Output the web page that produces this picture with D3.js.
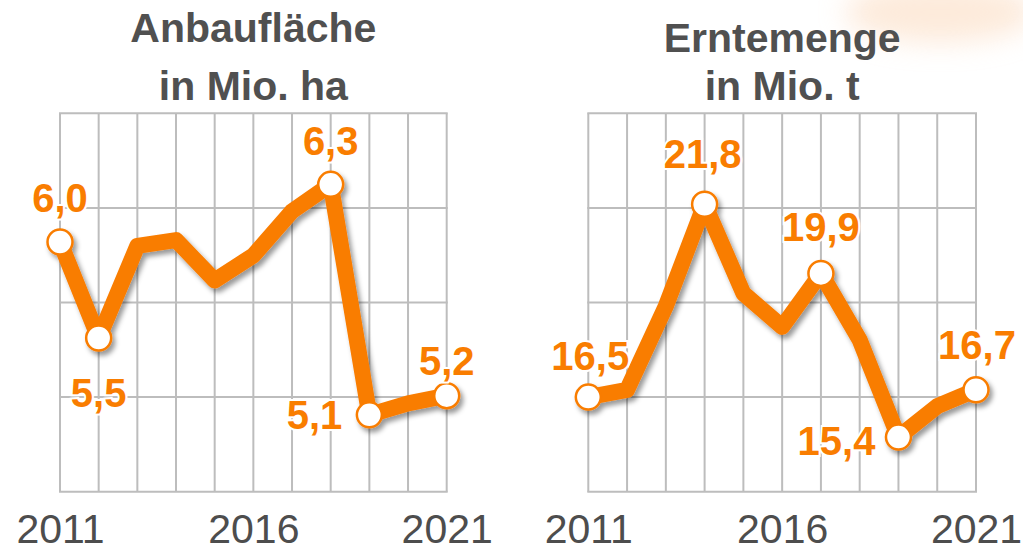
<!DOCTYPE html>
<html>
<head>
<meta charset="utf-8">
<script src="https://cdn.jsdelivr.net/npm/d3@7"></script>
<style>
  body { margin: 0; background: #fff; }
  svg { display: block; font-family: "Liberation Sans", Arial, sans-serif; }
</style>
</head>
<body>
<div id="chart"></div>
<script>
//data
var years = [2011, 2012, 2013, 2014, 2015, 2016, 2017, 2018, 2019, 2020, 2021];
var flaeche = [6.0, 5.5, 5.98, 6.01, 5.80, 5.93, 6.16, 6.3, 5.1, 5.16, 5.2]; //Anbauflaeche Mio. ha
var ernte = [16.5, 16.7, 19.0, 21.8, 19.35, 18.43, 19.9, 18.07, 15.4, 16.25, 16.7]; //Erntemenge Mio. t
var yearTicks = [2011, 2016, 2021];
var titleFlaeche = ["Anbaufläche", "in Mio. ha"];
var titleErnte = ["Erntemenge", "in Mio. t"];
var labeledFlaeche = [0, 1, 7, 8, 10]; //which points get a value label
var labeledErnte = [0, 3, 6, 8, 10];

var width = 1023, height = 547,
    gridTop = 113.3, gridBottom = 491.7,
    orange = "#f97d00";

var fmt = d3.format(".1f");
function comma(v) { return fmt(v).replace(".", ","); }

var svg = d3.select("#chart").append("svg")
    .attr("width", width)
    .attr("height", height);

var defs = svg.append("defs");

//drop shadow for the line + markers
var shadow = defs.append("filter")
    .attr("id", "shadow")
    .attr("x", "-10%").attr("y", "-10%")
    .attr("width", "130%").attr("height", "130%");
shadow.append("feDropShadow")
    .attr("dx", 3).attr("dy", 4)
    .attr("stdDeviation", 2.5)
    .attr("flood-color", "#000")
    .attr("flood-opacity", 0.4);

//soft decoration in the upper right corner
var blur = defs.append("filter").attr("id", "blur")
    .attr("x", "-50%").attr("y", "-50%").attr("width", "200%").attr("height", "200%");
blur.append("feGaussianBlur").attr("stdDeviation", 14);
svg.append("ellipse")
    .attr("cx", 940).attr("cy", 12)
    .attr("rx", 95).attr("ry", 30)
    .attr("fill", "#fbd6b6")
    .attr("opacity", 0.5)
    .attr("filter", "url(#blur)");

//panel settings (layout only)
var panels = [
    { values: flaeche, title: titleFlaeche, left: 60, right: 446.7, domain: [4.7, 6.67], titleY: [42, 100],
      labeled: labeledFlaeche,
      place: [[0, -30, "middle"], [0, 69, "middle"], [0, -29, "middle"], [-27, 14, "end"], [0, -21, "middle"]] },
    { values: ernte, title: titleErnte, left: 588.3, right: 976, domain: [13.9, 24.3], titleY: [52, 100],
      labeled: labeledErnte,
      place: [[2, -27, "middle"], [-2, -36, "middle"], [0, -32, "middle"], [-23, 18, "end"], [1, -31, "middle"]] }
];

panels.forEach(function(p) {
    var x = d3.scaleLinear().domain([years[0], years[years.length - 1]]).range([p.left, p.right]);
    var y = d3.scaleLinear().domain(p.domain).range([gridBottom, gridTop]);
    var g = svg.append("g");

    //title
    g.append("text")
        .attr("text-anchor", "middle")
        .attr("font-size", 41)
        .attr("font-weight", "bold")
        .attr("fill", "#505050")
        .selectAll("tspan")
        .data(p.title)
        .enter().append("tspan")
            .attr("x", (p.left + p.right) / 2)
            .attr("y", (d, i) => p.titleY[i])
            .text(d => d);

    //grid: one column per year, four rows
    var rows = d3.range(5).map(i => p.domain[0] + i * (p.domain[1] - p.domain[0]) / 4);
    g.append("g").selectAll("line")
        .data(years)
        .enter().append("line")
            .attr("x1", d => x(d)).attr("x2", d => x(d))
            .attr("y1", gridTop).attr("y2", gridBottom)
            .attr("stroke", "#bdbdbd").attr("stroke-width", 2);
    g.append("g").selectAll("line")
        .data(rows)
        .enter().append("line")
            .attr("x1", p.left - 1).attr("x2", p.right + 1)
            .attr("y1", d => y(d)).attr("y2", d => y(d))
            .attr("stroke", "#bdbdbd").attr("stroke-width", 2);

    //year axis
    var axis = g.append("g")
        .attr("transform", "translate(0," + gridBottom + ")")
        .call(d3.axisBottom(x).tickValues(yearTicks).tickSize(0).tickFormat(d3.format("d")));
    axis.select(".domain").remove();
    axis.selectAll("text")
        .attr("dy", null)
        .attr("y", 51)
        .attr("font-size", 41)
        .attr("font-family", "Liberation Sans, Arial, sans-serif")
        .attr("fill", "#4d4d4d");

    //line and markers with shadow
    var pts = years.map((yr, i) => [x(yr), y(p.values[i])]);
    var series = g.append("g").attr("filter", "url(#shadow)");
    series.append("path")
        .datum(pts)
        .attr("d", d3.line())
        .attr("fill", "none")
        .attr("stroke", orange)
        .attr("stroke-width", 16)
        .attr("stroke-linejoin", "round")
        .attr("stroke-linecap", "round");
    series.selectAll("circle")
        .data(p.labeled)
        .enter().append("circle")
            .attr("cx", i => pts[i][0])
            .attr("cy", i => pts[i][1])
            .attr("r", 12.5)
            .attr("fill", "#fff")
            .attr("stroke", orange)
            .attr("stroke-width", 2.5);

    //value labels
    g.append("g").selectAll("text")
        .data(p.labeled)
        .enter().append("text")
            .attr("x", (i, k) => pts[i][0] + p.place[k][0])
            .attr("y", (i, k) => pts[i][1] + p.place[k][1])
            .attr("text-anchor", (i, k) => p.place[k][2])
            .attr("font-size", 40)
            .attr("font-weight", "bold")
            .attr("fill", orange)
            .attr("stroke", "#fff")
            .attr("stroke-width", 4)
            .attr("paint-order", "stroke")
            .text(i => comma(p.values[i]));
});
</script>
</body>
</html>
